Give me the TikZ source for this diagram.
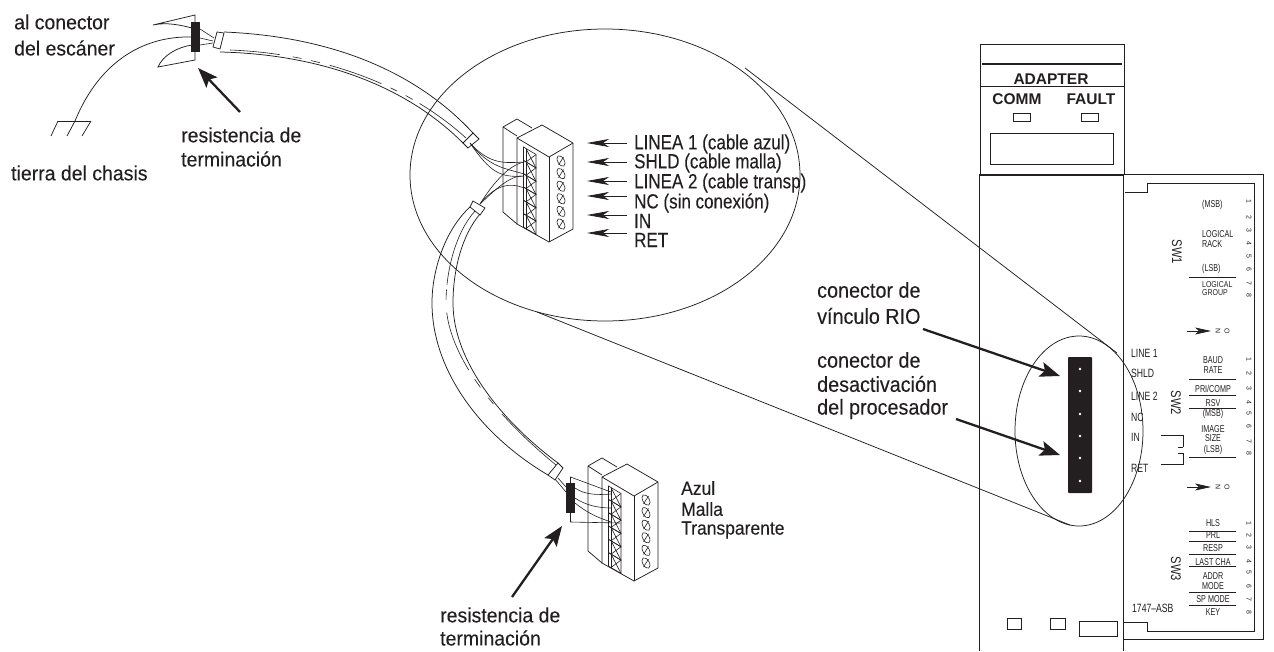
\documentclass[tikz,border=0pt]{standalone}
\usepackage{fontspec}
\setmainfont{Liberation Sans}
\newfontfamily\heavyf[FakeBold=0.15]{Liberation Sans}
\usetikzlibrary{arrows.meta,shapes.geometric}
\definecolor{ink}{HTML}{231F20}
\tikzset{
  line/.style={draw=ink,line width=0.75pt},
  thin line/.style={draw=ink,line width=0.6pt},
  lbl/.style={text=ink,inner sep=0pt,anchor=west,font=\heavyf\fontsize{20.5}{21}\selectfont,xscale=.95,transform shape},
  lblbig/.style={text=ink,inner sep=0pt,anchor=west,font=\heavyf\fontsize{21.5}{22}\selectfont,xscale=.92,transform shape},
  lblcolor/.style={text=ink,inner sep=0pt,anchor=west,font=\heavyf\fontsize{19}{20}\selectfont,xscale=.92,transform shape},
  cond/.style={text=ink,inner sep=0pt,anchor=west,font=\heavyf\fontsize{20.5}{21}\selectfont,xscale=.83,transform shape},
  tag/.style={text=ink,inner sep=0pt,font=\bfseries\fontsize{15.5}{16}\selectfont},
  lineTag/.style={text=ink,inner sep=0pt,anchor=west,font=\fontsize{12}{12}\selectfont,xscale=.72,transform shape},
  swName/.style={text=ink,inner sep=0pt,rotate=-90,font=\fontsize{14}{14}\selectfont,xscale=.8,transform shape},
  small/.style={text=ink,inner sep=0pt,font=\fontsize{10}{10}\selectfont,xscale=.72,transform shape},
  tiny/.style={text=ink,inner sep=0pt,anchor=west,font=\fontsize{8.5}{9}\selectfont,xscale=.82,transform shape},
  smallL/.style={small,anchor=west},
  dig/.style={text=ink,inner sep=0pt,rotate=-90,font=\fontsize{7}{7}\selectfont},
  callout/.style={draw=ink,line width=2.3pt,-{Stealth[length=20pt,width=15pt,inset=4pt]}},
  pin/.style={draw=ink,line width=.7pt,-{Stealth[length=22pt,width=8pt,inset=6pt]}},
  onarrow/.style={draw=ink,line width=.7pt,-{Stealth[length=16pt,width=7pt,inset=4pt]}},
  termblock/.pic={
    \draw[line] (503,127)--(517,119)--(532,128);
    \draw[line] (503,127)--(517,136);
    \draw[line] (503,127)--(503,212)--(517,224);
    \draw[line,line join=round] (517,138)--(542,125)--(573,143)--(549,157)--cycle;
    \draw[line] (517,138)--(517,224)--(549,242)--(573,229)--(573,143);
    \draw[line] (549,157)--(549,242);
    \foreach \i in {0,...,5}{
      \begin{scope}[yshift=-13.3*\i pt]
        \draw[thin line] (523.5,147)--(536,154.5)--(536,168)--(523.5,160.5)--cycle;
        \draw[thin line] (526,148.5)--(526,162);
        \draw[thin line] (526,148.5)--(536,168) (536,154.5)--(526,162);
      \end{scope}
      \begin{scope}[shift={(561,161+12.6*\i)}]
        \draw[thin line,rotate=30] (0,0) ellipse (3.2 and 5.8);
        \draw[thin line] (-2.5,4)--(2.5,-4);
      \end{scope}
    }
  }
}
\begin{document}
\begin{tikzpicture}[x=1pt,y=-1pt]
\useasboundingbox (0,0) rectangle (1274,651);

% labels, upper left
\node[lbl] (alcon) at (14,22) {al conector};
\node[lbl] (delesc) at (14,48) {del escáner};
\node[lbl] (tierra) at (11,173) {tierra del chasis};
\node[lbl] (res1) at (181,135) {resistencia de};
\node[lbl] (term1) at (181,159) {terminación};
\node[lbl] (res2) at (440,615) {resistencia de};
\node[lbl] (term2) at (440,638) {terminación};

% ground
\coordinate (gnd) at (75,121);
\draw[line] (58,121)--(91,121);
\draw[line] (58,121)--(51,136) (75,121)--(67,136) (91,121)--(82,136);
\draw[line] (gnd) .. controls (100,60) and (145,36) .. (191,37);

% scanner end
\node[fill=ink,inner sep=0pt,minimum width=9pt,minimum height=30pt] (r1) at (195.5,37) {};
\draw[line] (195,22)--(195,15)--(153,25) .. controls (167,22) and (180,25) .. (192,28);
\draw[line] (195,52)--(195,60)--(158,67) .. controls (163,55) and (178,47) .. (192,45);
\coordinate (f1a) at (214,38);
\coordinate (f1b) at (213,41);
\coordinate (f1c) at (213,43);
\draw[thin line] (200,29)--(f1a) (200,38)--(f1b) (200,45)--(f1c);
\draw[line] (217,32)--(224,33)--(220,49)--(213,47)--cycle;

% upper cable
\draw[line] (224,32) .. controls (320,36) and (410,65) .. (473,133);
\draw[line] (220,52) .. controls (310,54) and (400,80) .. (463,143);
\draw[thin line,dash pattern=on 50pt off 13pt on 9pt off 10pt on 9pt off 10pt on 55pt off 10pt on 7pt off 10pt on 8pt off 8pt on 70pt off 50pt]
  (230,50) .. controls (310,53) and (400,78) .. (466,138);
\draw[line] (473,133)--(479,139)--(468,148)--(463,143)--cycle;

% big ellipse and tangents
\node[ellipse,line,inner sep=0pt,minimum width=390pt,minimum height=292pt] (big) at (605,175) {};
\node[ellipse,line,inner sep=0pt,minimum width=128pt,minimum height=190pt] (sm) at (1079,431) {};
\coordinate (bigT) at (745,68);
\coordinate (bigB) at (537,312);
\coordinate (smT) at (1117,353);
\coordinate (smB) at (1070,525);
\draw[line] (bigT)--(smT);
\draw[line] (bigB)--(smB);

% terminal block 1
\pic (tb1) at (0,0) {termblock};
\coordinate (w1) at (470,143);
\coordinate (w2) at (480,204);
\draw[thin line] (w1) .. controls (490,165) and (505,163) .. (524,162);
\draw[thin line] (w1) .. controls (490,168) and (505,168) .. (524,174);
\draw[thin line] (w1) .. controls (490,172) and (500,178) .. (524,176);
\draw[thin line] (w2) .. controls (495,180) and (510,165) .. (524,162);
\draw[thin line] (w2) .. controls (495,190) and (510,175) .. (524,176);
\draw[thin line] (w2) .. controls (495,185) and (510,182) .. (524,188);

% lower cable
\draw[line] (473,201)--(485,208)--(480,215)--(470,207)--cycle;
\draw[line] (470,207) .. controls (445,230) and (432,270) .. (432,303) .. controls (432,370) and (480,435) .. (548,475);
\draw[line] (480,214) .. controls (462,235) and (453,270) .. (453,303) .. controls (453,360) and (500,420) .. (558,463);
\draw[thin line,dash pattern=on 80pt off 5pt on 10pt off 13pt on 62pt off 11pt on 10pt off 13pt on 8pt off 13pt on 80pt off 50pt]
  (475,211) .. controls (456,232) and (446,270) .. (446,303) .. controls (447,355) and (495,415) .. (556,465);
\draw[line] (558,463)--(563,468)--(555,480)--(548,475)--cycle;

% terminal block 2
\pic (tb2) at (85,339) {termblock};
\node[fill=ink,inner sep=0pt,minimum width=9pt,minimum height=30pt] (r2) at (570.5,498) {};
\draw[thin line] (555,479)--(566,492) (558,478)--(566,487);
\draw[thin line] (r2.north)--(570.5,477)--(611,492);
\draw[thin line] (r2.south)--(570.5,522)--(620,523);
\draw[thin line] (575,488) .. controls (585,495) and (598,495) .. (611,494);
\draw[thin line] (575,498) .. controls (585,505) and (598,508) .. (611,508);
\draw[thin line] (575,503) .. controls (590,515) and (600,518) .. (611,522);
\node[lblcolor] (azul) at (681,488) {Azul};
\node[lblcolor] (malla) at (681,509) {Malla};
\node[lblcolor] (transp) at (681,530) {Transparente};

% labels on pins
\node[cond] (p1) at (634,144) {LINEA 1 (cable azul)};
\node[cond] (p2) at (634,163) {SHLD (cable malla)};
\node[cond] (p3) at (634,183) {LINEA 2 (cable transp)};
\node[cond] (p4) at (634,203) {NC (sin conexión)};
\node[cond] (p5) at (634,221) {IN};
\node[cond] (p6) at (634,240) {RET};
\foreach \n/\y in {1/143,2/162,3/181,4/196,5/215,6/233}{
  \coordinate (pt\n) at (627,\y);
  \coordinate (pe\n) at (587,\y);
  \draw[pin] (pt\n)--(pe\n);
}

% callouts
\coordinate (c1s) at (240,112); \coordinate (c1e) at (198,68);
\draw[callout] (c1s)--(c1e);
\coordinate (c2s) at (512,597); \coordinate (c2e) at (562,526);
\draw[callout] (c2s)--(c2e);
\node[lblbig] (cv1) at (817,290) {conector de};
\node[lblbig] (cv2) at (817,316) {vínculo RIO};
\node[lblbig] (cd1) at (817,360) {conector de};
\node[lblbig] (cd2) at (817,384) {desactivación};
\node[lblbig] (cd3) at (817,409) {del procesador};
\coordinate (c3s) at (923,329); \coordinate (c3e) at (1060,376);
\draw[callout] (c3s)--(c3e);
\coordinate (c4s) at (956,419); \coordinate (c4e) at (1060,455);
\draw[callout] (c4s)--(c4e);

% module
\draw[line,line width=1pt] (980,175)--(980,44)--(1124,44)--(1124,175);
\draw[line width=1.5pt,draw=ink] (982,64)--(1122,64);
\draw[line] (980,86)--(1124,86);
\draw[line width=1.3pt,draw=ink] (979,175)--(1124,175);
\draw[line,line width=1pt] (979,175)--(979,651);
\draw[line,line width=1pt] (1123.5,175)--(1123.5,651);
\draw[line] (1124,174)--(1263,174)--(1263,639)--(1124,639);
\draw[line] (1125,192)--(1147,192)--(1147,183)--(1254,183)--(1254,631)--(1147,631)--(1147,622)--(1124,622);
\node[tag] (ad) at (1051,79) {ADAPTER};
\node[tag] (comm) at (1017,99) {COMM};
\node[tag] (fault) at (1091,99) {FAULT};
\draw[line] (1013,113) rectangle (1030,121);
\draw[line] (1081,113) rectangle (1098,121);
\draw[line] (990,133) rectangle (1113,164);
\draw[line] (1007,618) rectangle (1021,629);
\draw[line] (1050,618) rectangle (1065,629);
\draw[line] (1079,621) rectangle (1117,636);

% black connector
\node[fill=ink,inner sep=0pt,minimum width=24pt,minimum height=136pt,rounded corners=.8pt] (rio) at (1080,425) {};
\foreach \y in {369,391,414,436,458,481}{\fill[white] (1080,\y) circle (1.4);}

% left tags
\node[lineTag] (l1) at (1131,353) {LINE 1};
\node[lineTag] (l2) at (1131,373) {SHLD};
\node[lineTag] (l3) at (1131,396) {LINE 2};
\node[lineTag] (l4) at (1131,417) {NC};
\node[lineTag] (l5) at (1131,437) {IN};
\node[lineTag] (l6) at (1131,468) {RET};
\draw[line] (1161,435)--(1183,435)--(1183,447) (1178,447)--(1183,447);
\draw[line] (1178,453)--(1183,453)--(1183,464)--(1161,464);
\node[lineTag] (asb) at (1132,608) {1747–ASB};

% switch names
\node[swName] (sw1) at (1177,252) {SW1};
\node[swName] (sw2) at (1176,403) {SW2};
\node[swName] (sw3) at (1176,569) {SW3};

% switch labels
\node[smallL] (a1) at (1202,205) {(MSB)};
\node[smallL] (a2) at (1202,234) {LOGICAL};
\node[smallL] (a3) at (1202,244) {RACK};
\node[smallL] (a4) at (1202,269) {(LSB)};
\node[tiny] (a5) at (1202,284.5) {LOGICAL};
\node[tiny] (a6) at (1202,292.5) {GROUP};
\foreach \t/\y in {BAUD/360,RATE/370,PRI{/}COMP/389,RSV/403,(MSB)/414,IMAGE/429,SIZE/438,(LSB)/450,HLS/523,PRL/535,RESP/548,LAST CHA/562,ADDR/576,MODE/586,SP MODE/599,KEY/612}{
  \node[small] at (1213,\y) {\t};
}
\foreach \y in {277,379,395,408,457,531,541,554,566,592,605}{
  \draw[line] (1189,\y)--(1236,\y);
}
% ON arrows
\foreach \y in {331,487}{
  \coordinate (on\y) at (1187,\y);
  \coordinate (ot\y) at (1211,\y);
  \draw[onarrow] (on\y)--(ot\y);
  \node[dig] at (1218,\y) {N};
  \node[dig] at (1227,\y) {O};
}
% digits
\foreach \d/\y in {1/201,2/217,3/230,4/243,5/256,6/269,7/283,8/295,
  1/359,2/373,3/388,4/402,5/413,6/426,7/441,8/453,
  1/523,2/535,3/547,4/561,5/572,6/586,7/599,8/612}{
  \node[dig] at (1249,\y) {\d};
}
\end{tikzpicture}
\end{document}
